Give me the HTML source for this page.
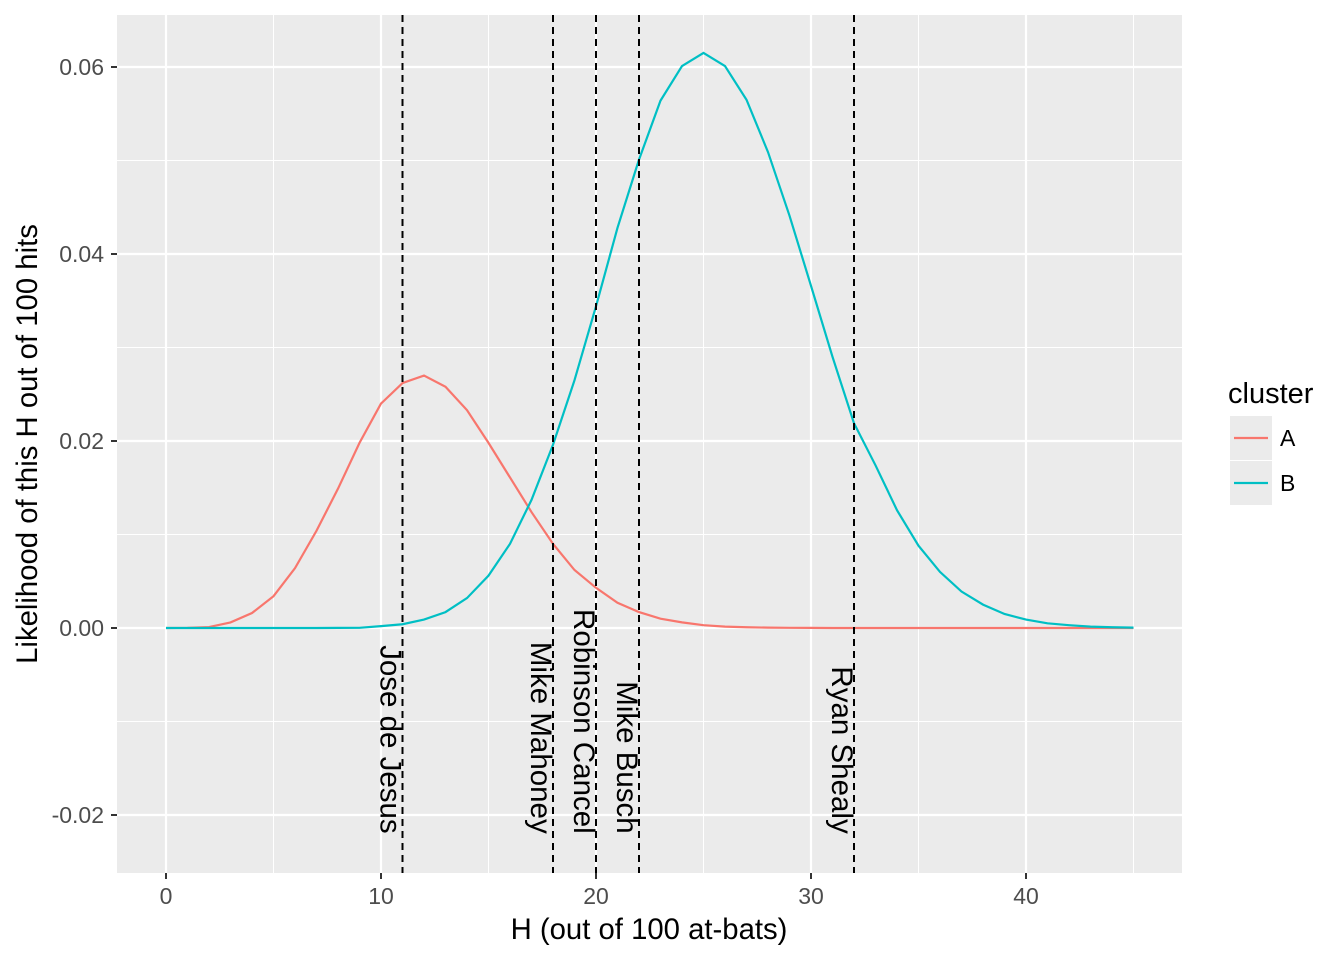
<!DOCTYPE html>
<html><head><meta charset="utf-8"><style>
body{margin:0;background:#fff;}
svg{display:block;font-family:"Liberation Sans",Arial,sans-serif;}
</style></head><body>
<svg id="chart" width="1344" height="960">
<rect x="117" y="15" width="1065" height="858" fill="#ebebeb"/>
<g id="grid"></g>
<g id="curves"></g>
<g id="vlines"></g>
<g id="axes"></g>
<text x="649" y="939" text-anchor="middle" font-size="29.3" fill="#000">H (out of 100 at-bats)</text>
<text transform="translate(37,444) rotate(-90)" text-anchor="middle" font-size="29.3" fill="#000">Likelihood of this H out of 100 hits</text>
<g>
<text x="1228" y="403" font-size="29" fill="#000">cluster</text>
<g>
<rect x="1230" y="416" width="42" height="44" fill="#ebebeb"/>
<line x1="1234" x2="1268" y1="438" y2="438" stroke="#F8766D" stroke-width="2.2"/>
<text x="1280" y="446" font-size="23" fill="#000">A</text></g>
<g>
<rect x="1230" y="461" width="42" height="44" fill="#ebebeb"/>
<line x1="1234" x2="1268" y1="483" y2="483" stroke="#00BFC4" stroke-width="2.2"/>
<text x="1280" y="491" font-size="23" fill="#000">B</text></g>
</g>
</svg>
<script>
const clusterA=[0,0.00002,0.0001,0.0006,0.0016,0.0034,0.0064,0.0104,0.0149,0.0198,0.0240,0.0262,0.0270,0.0258,0.0233,0.0198,0.0161,0.0124,0.0090,0.0062,0.0043,0.0027,0.0017,0.0010,0.0006,0.0003,0.00015,0.00008,0.00004,0.00002,0.00001,0,0,0,0,0,0,0,0,0,0,0,0,0,0,0];
const clusterB=[0,0,0,0,0,0,0,0,0.00001,0.00002,0.0002,0.0004,0.0009,0.0017,0.0032,0.0056,0.0090,0.0137,0.0196,0.0265,0.0344,0.0428,0.0501,0.0564,0.0601,0.0615,0.0601,0.0565,0.0509,0.0441,0.0366,0.0290,0.0219,0.0174,0.0126,0.0088,0.0060,0.0039,0.0025,0.0015,0.0009,0.0005,0.0003,0.00015,0.00008,0.00004];
const playerNames=["Jose de Jesus","Mike Mahoney","Robinson Cancel","Mike Busch","Ryan Shealy"];
const playerH=[11,18,20,22,32];
const xTicks=[0,10,20,30,40];
const yTicks=[-0.02,0,0.02,0.04,0.06];
const yTickLabels=["-0.02","0.00","0.02","0.04","0.06"];
const NS="http://www.w3.org/2000/svg";
const X=v=>166+v*21.5;
const Y=v=>628-v*9350;
function mk(tag,attrs,parent){const e=document.createElementNS(NS,tag);for(const k in attrs)e.setAttribute(k,attrs[k]);parent.appendChild(e);return e;}
const grid=document.getElementById('grid');
[5,15,25,35,45].forEach(v=>{const l=mk('line',{x1:X(v),x2:X(v),y1:15,y2:873,stroke:'#fff','stroke-width':1},grid);

});
[-0.01,0.01,0.03,0.05].forEach(v=>{const l=mk('line',{x1:117,x2:1182,y1:Y(v),y2:Y(v),stroke:'#fff','stroke-width':1},grid);

});
xTicks.forEach(v=>{const l=mk('line',{x1:X(v),x2:X(v),y1:15,y2:873,stroke:'#fff','stroke-width':2.2},grid);

});
yTicks.forEach(v=>{const l=mk('line',{x1:117,x2:1182,y1:Y(v),y2:Y(v),stroke:'#fff','stroke-width':2.2},grid);

});
const axes=document.getElementById('axes');
xTicks.forEach(v=>{mk('line',{x1:X(v),x2:X(v),y1:873,y2:879,stroke:'#333','stroke-width':2},axes);
const t=mk('text',{x:X(v),y:904,'text-anchor':'middle','font-size':23,fill:'#4d4d4d'},axes);t.textContent=v;

});
yTicks.forEach((v,i)=>{mk('line',{x1:111,x2:117,y1:Y(v),y2:Y(v),stroke:'#333','stroke-width':2},axes);
const t=mk('text',{x:104,y:Y(v)+8,'text-anchor':'end','font-size':23,fill:'#4d4d4d'},axes);t.textContent=yTickLabels[i];

});
const curves=document.getElementById('curves');
[[clusterA,'#F8766D','curve-cluster-a'],[clusterB,'#00BFC4','curve-cluster-b']].forEach(([d,c,n])=>{
const p=mk('polyline',{points:d.map((v,i)=>X(i)+','+Y(v)).join(' '),fill:'none',stroke:c,'stroke-width':2.2},curves);

});
const vl=document.getElementById('vlines');
playerH.forEach((h,i)=>{const l=mk('line',{x1:X(h),x2:X(h),y1:15,y2:873,stroke:'#000','stroke-width':2,'stroke-dasharray':'7,5'},vl);


const t=mk('text',{transform:`translate(${X(h)-22},${Y(-0.022)}) rotate(90)`,'text-anchor':'end','font-size':29.5,fill:'#000'},vl);
t.textContent=playerNames[i];

});
</script>
</body></html>
